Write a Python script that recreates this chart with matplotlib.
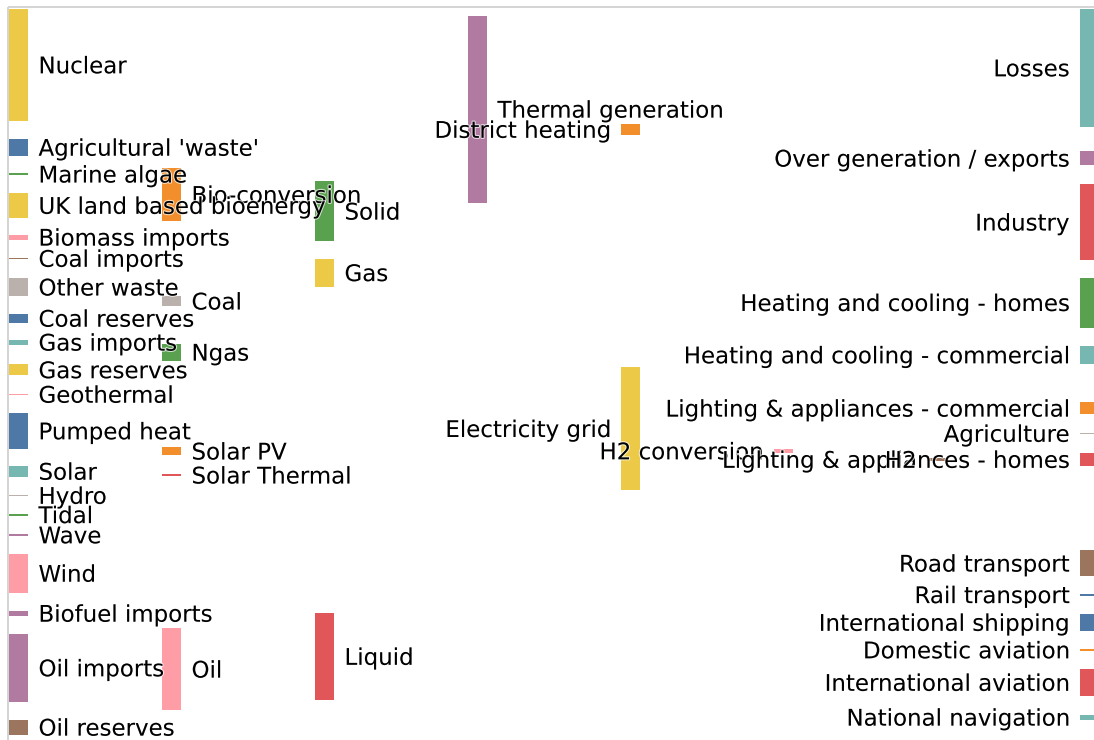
import matplotlib.pyplot as plt
import matplotlib.patheffects as pe
from matplotlib.patches import Rectangle

# UK energy flows (TWh) - links of the sankey
sources = [
    "Agricultural 'waste'", "Bio-conversion", "Bio-conversion", "Bio-conversion", "Bio-conversion",
    "Biofuel imports", "Biomass imports", "Coal imports", "Coal reserves", "Coal",
    "District heating", "District heating", "District heating",
    "Electricity grid", "Electricity grid", "Electricity grid", "Electricity grid", "Electricity grid",
    "Electricity grid", "Electricity grid", "Electricity grid", "Electricity grid", "Electricity grid",
    "Electricity grid", "Gas imports", "Gas reserves", "Gas", "Gas", "Gas", "Gas", "Gas",
    "Geothermal", "H2 conversion", "H2 conversion", "H2", "Hydro",
    "Liquid", "Liquid", "Liquid", "Liquid", "Liquid", "Liquid", "Liquid", "Liquid",
    "Marine algae", "Ngas", "Nuclear", "Oil imports", "Oil reserves", "Oil",
    "Other waste", "Other waste", "Pumped heat", "Pumped heat", "Solar PV", "Solar Thermal",
    "Solar", "Solar", "Solid", "Solid", "Solid",
    "Thermal generation", "Thermal generation", "Thermal generation",
    "Tidal", "UK land based bioenergy", "Wave", "Wind",
]
targets = [
    "Bio-conversion", "Liquid", "Losses", "Solid", "Gas",
    "Liquid", "Solid", "Coal", "Coal", "Solid",
    "Industry", "Heating and cooling - commercial", "Heating and cooling - homes",
    "Over generation / exports", "Heating and cooling - homes", "H2 conversion", "Industry",
    "Road transport", "Agriculture", "Heating and cooling - commercial", "Losses",
    "Rail transport", "Lighting & appliances - commercial", "Lighting & appliances - homes",
    "Ngas", "Ngas", "Heating and cooling - commercial", "Losses", "Thermal generation",
    "Agriculture", "Industry",
    "Electricity grid", "H2", "Losses", "Road transport", "Electricity grid",
    "Industry", "International shipping", "Road transport", "Domestic aviation",
    "International aviation", "Agriculture", "National navigation", "Rail transport",
    "Bio-conversion", "Gas", "Thermal generation", "Oil", "Oil", "Liquid",
    "Solid", "Bio-conversion", "Heating and cooling - homes", "Heating and cooling - commercial",
    "Electricity grid", "Heating and cooling - homes",
    "Solar Thermal", "Solar PV", "Agriculture", "Thermal generation", "Industry",
    "Electricity grid", "Losses", "District heating",
    "Electricity grid", "Bio-conversion", "Electricity grid", "Electricity grid",
]
values = [
    124.729, 0.597, 26.862, 280.322, 81.144,
    35, 35, 11.606, 63.965, 75.571,
    10.639, 22.505, 46.184,
    104.453, 113.726, 27.14, 342.165, 37.797, 4.412, 40.858, 56.691, 7.863, 90.008, 93.494,
    40.719, 82.233, 0.129, 1.401, 151.891, 2.096, 48.58,
    7.013, 20.897, 6.242, 20.897, 6.995,
    121.066, 128.69, 135.835, 14.458, 206.267, 3.64, 33.218, 4.413,
    4.375, 122.952, 839.978, 504.287, 107.703, 611.99,
    56.587, 77.81, 193.026, 70.672, 59.901, 19.263,
    19.263, 59.901, 0.882, 400.12, 46.477,
    525.531, 787.129, 79.329,
    9.452, 182.01, 19.013, 289.366,
]

nodes = [
    "Agricultural 'waste'", "Bio-conversion", "Liquid", "Losses", "Solid", "Gas",
    "Biofuel imports", "Biomass imports", "Coal imports", "Coal", "Coal reserves",
    "District heating", "Industry", "Heating and cooling - commercial",
    "Heating and cooling - homes", "Electricity grid", "Over generation / exports",
    "H2 conversion", "Road transport", "Agriculture", "Rail transport",
    "Lighting & appliances - commercial", "Lighting & appliances - homes",
    "Gas imports", "Ngas", "Gas reserves", "Thermal generation", "Geothermal", "H2",
    "Hydro", "International shipping", "Domestic aviation", "International aviation",
    "National navigation", "Marine algae", "Nuclear", "Oil imports", "Oil",
    "Oil reserves", "Other waste", "Pumped heat", "Solar PV", "Solar Thermal", "Solar",
    "Tidal", "UK land based bioenergy", "Wave", "Wind",
]

# layout of the sankey: column of each node and vertical centre (pixels)
layout = {
    "Nuclear": (0, 65.0), "Agricultural 'waste'": (0, 147.4), "Marine algae": (0, 174.2),
    "UK land based bioenergy": (0, 205.5), "Biomass imports": (0, 237.3),
    "Coal imports": (0, 258.5), "Other waste": (0, 287.2), "Coal reserves": (0, 318.4),
    "Gas imports": (0, 342.3), "Gas reserves": (0, 369.9), "Geothermal": (0, 394.4),
    "Pumped heat": (0, 431.0), "Solar": (0, 471.4), "Hydro": (0, 495.5),
    "Tidal": (0, 514.8), "Wave": (0, 535.0), "Wind": (0, 573.4),
    "Biofuel imports": (0, 613.4), "Oil imports": (0, 668.0), "Oil reserves": (0, 727.3),
    "Bio-conversion": (1, 194.5), "Coal": (1, 301.2), "Ngas": (1, 352.3),
    "Solar PV": (1, 451.2), "Solar Thermal": (1, 475.2), "Oil": (1, 669.3),
    "Solid": (2, 211.3), "Gas": (2, 272.8), "Liquid": (2, 656.5),
    "Thermal generation": (3, 109.3),
    "District heating": (4, 129.5), "Electricity grid": (4, 428.7),
    "H2 conversion": (5, 451.0),
    "H2": (6, 459.5),
    "Losses": (7, 68.0), "Over generation / exports": (7, 158.3), "Industry": (7, 222.2),
    "Heating and cooling - homes": (7, 302.7), "Heating and cooling - commercial": (7, 355.0),
    "Lighting & appliances - commercial": (7, 408.3), "Agriculture": (7, 433.5),
    "Lighting & appliances - homes": (7, 459.5), "Road transport": (7, 563.3),
    "Rail transport": (7, 594.8), "International shipping": (7, 622.5),
    "Domestic aviation": (7, 650.0), "International aviation": (7, 682.5),
    "National navigation": (7, 717.3),
}

palette = ['#4e79a7', '#f28e2b', '#e15759', '#76b7b2', '#59a14f',
           '#edc948', '#b07aa1', '#ff9da7', '#9c755f', '#bab0ac']

# node size = max(inflow, outflow)
inflow = {n: 0.0 for n in nodes}
outflow = {n: 0.0 for n in nodes}
for s, t, v in zip(sources, targets, values):
    outflow[s] += v
    inflow[t] += v
node_value = {n: max(inflow[n], outflow[n]) for n in nodes}

W, H = 1094, 740
scale = 0.1345        # pixels per TWh
x0, col_step, node_w = 9, 153, 19
pad = 10.5
fs = 16.5

fig = plt.figure(figsize=(W / 100, H / 100), dpi=100)
ax = fig.add_axes([0, 0, 1, 1])
ax.set_xlim(0, W)
ax.set_ylim(H, 0)
ax.axis('off')

# frame edges
ax.plot([7.5, W], [6.5, 6.5], color='#d4d4d4', lw=1.4, solid_capstyle='butt')
ax.plot([7.5, 7.5], [6.5, H], color='#d4d4d4', lw=1.4, solid_capstyle='butt')

halo = [pe.withStroke(linewidth=1.6, foreground=(1, 1, 1, 0.7))]
for i, name in enumerate(nodes):
    col, yc = layout[name]
    h = max(node_value[name] * scale, 1.5)
    left = x0 + col * col_step
    ax.add_patch(Rectangle((left, yc - h / 2), node_w, h,
                           facecolor=palette[i % 10], edgecolor='none', zorder=2))
    base = yc + 8.3
    if col < 4:
        ax.text(left + node_w + pad, base, name, ha='left', va='baseline',
                fontsize=fs, color='black', zorder=3, path_effects=halo)
    else:
        ax.text(left - pad, base, name, ha='right', va='baseline',
                fontsize=fs, color='black', zorder=3, path_effects=halo)

fig.savefig('out.png', dpi=100)
